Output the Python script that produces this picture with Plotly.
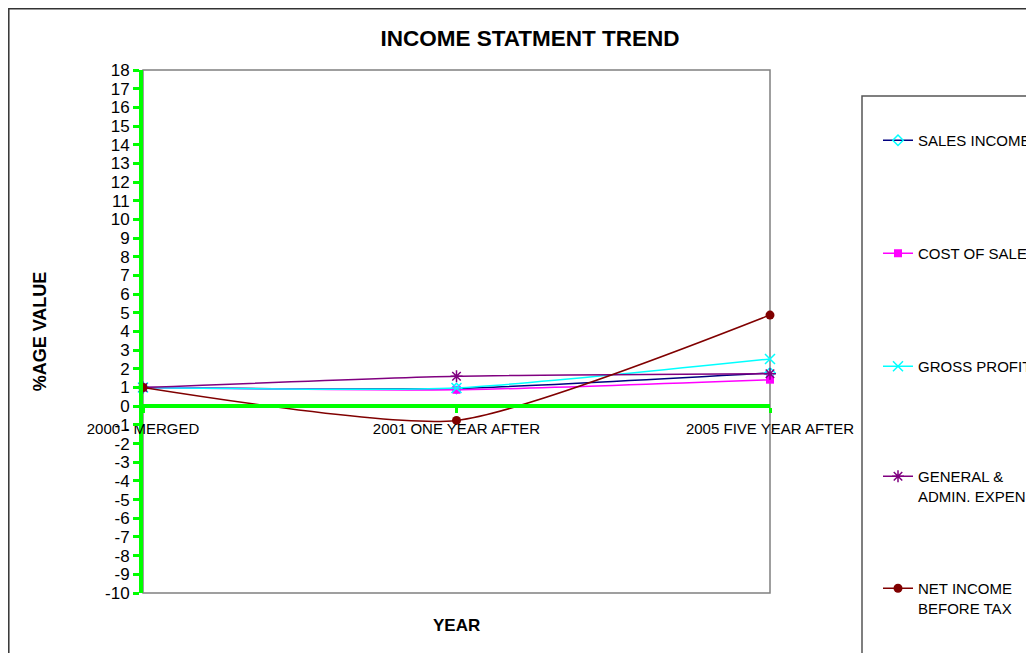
import plotly.graph_objects as go

categories = ["2000 - MERGED", "2001 ONE YEAR AFTER", "2005 FIVE YEAR AFTER"]

sales_income = [1.0, 0.95, 1.78]
cost_of_sales = [1.0, 0.88, 1.42]
gross_profit = [1.0, 0.98, 2.53]
general_admin = [1.0, 1.6, 1.74]
net_income = [1.0, -0.76, 4.88]

y_ticks = list(range(-10, 19))
y_ticktext = [str(v) for v in y_ticks]

FONT = "Liberation Sans, Arial, sans-serif"

# page body has an 8px margin: convert screen pixel positions to figure positions
OFF = 8
L, R, T, B = 143 - OFF, 770 - OFF, 70 - OFF, 593 - OFF
PW, PH = R - L, B - T


def px_x(sx):
    return (sx - OFF - L) / PW


def px_y(sy):
    return (B - (sy - OFF)) / PH


series = [
    ("SALES INCOME", sales_income, "#000080", dict(symbol="diamond-open", color="#00FFFF", size=8, line=dict(width=1.5, color="#00FFFF"))),
    ("COST OF SALES", cost_of_sales, "#FF00FF", dict(symbol="square", color="#FF00FF", size=8)),
    ("GROSS PROFIT", gross_profit, "#00FFFF", dict(symbol="x-thin-open", color="#00FFFF", size=10, line=dict(width=1.5, color="#00FFFF"))),
    ("GENERAL &<br>ADMIN. EXPENSES", general_admin, "#800080", dict(symbol="asterisk-open", color="#800080", size=10, line=dict(width=1.5, color="#800080"))),
    ("NET INCOME<br>BEFORE TAX", net_income, "#800000", dict(symbol="circle", color="#800000", size=9)),
]
legend_centers = [140, 253, 366, 476, 588]
legend_ids = ["legend", "legend2", "legend3", "legend4", "legend5"]

fig = go.Figure()
for i, (name, vals, col, mk) in enumerate(series):
    fig.add_trace(go.Scatter(
        x=categories, y=vals, name=name, mode="lines+markers",
        line=dict(color=col, width=1.5, shape="spline", smoothing=0.6),
        marker=mk, legend=legend_ids[i], cliponaxis=False,
    ))

legend_layout = {}
for lid, c in zip(legend_ids, legend_centers):
    legend_layout[lid] = dict(x=px_x(878), xanchor="left", y=px_y(c - 16), yanchor="top",
                              valign="top", font=dict(size=15, family=FONT),
                              bgcolor="rgba(0,0,0,0)", borderwidth=0)

fig.update_layout(
    width=1034, height=653,
    margin=dict(l=L, r=1034 - R, t=T, b=653 - B, autoexpand=False),
    paper_bgcolor="white", plot_bgcolor="white",
    font=dict(family=FONT, color="black", size=15),
    title=dict(text="<b>INCOME STATMENT TREND</b>", x=522 / 1034, xanchor="center",
               y=1 - 30 / 653, yanchor="middle", font=dict(size=22.5, family=FONT)),
    showlegend=True,
    xaxis=dict(type="category", categoryorder="array", categoryarray=categories,
               range=[0, 2], anchor="free", position=10 / 28, automargin=False,
               showline=True, linecolor="#00FF00", linewidth=4,
               ticks="outside", tickcolor="#00FF00", ticklen=5, tickwidth=3,
               showgrid=False, zeroline=False, ticklabelstandoff=3,
               tickfont=dict(size=15, family=FONT)),
    yaxis=dict(range=[-10, 18], tickvals=y_ticks, ticktext=y_ticktext, automargin=False,
               showline=True, linecolor="#00FF00", linewidth=4,
               ticks="outside", tickcolor="#00FF00", ticklen=6, tickwidth=3,
               showgrid=False, zeroline=False, tickfont=dict(size=17, family=FONT),
               title=dict(text="<b>%AGE VALUE</b>", font=dict(size=18, family=FONT), standoff=55)),
    shapes=[
        dict(type="rect", xref="paper", yref="paper", x0=0, x1=1, y0=0, y1=1,
             line=dict(color="#808080", width=1.5), layer="below"),
        dict(type="rect", xref="paper", yref="paper", x0=(0.8 - L) / PW, x1=1.8,
             y0=-0.5, y1=(B - 0.8) / PH, line=dict(color="#333333", width=1.5), layer="below"),
        dict(type="rect", xref="paper", yref="paper", x0=px_x(862), x1=2.0,
             y0=-0.5, y1=px_y(96), line=dict(color="#555555", width=1.5), layer="below"),
    ],
    annotations=[
        dict(text="<b>YEAR</b>", xref="paper", yref="paper", x=0.5, y=px_y(625),
             xanchor="center", yanchor="middle", showarrow=False, font=dict(size=17, family=FONT)),
    ],
    **legend_layout,
)

fig.write_html("out.html")
